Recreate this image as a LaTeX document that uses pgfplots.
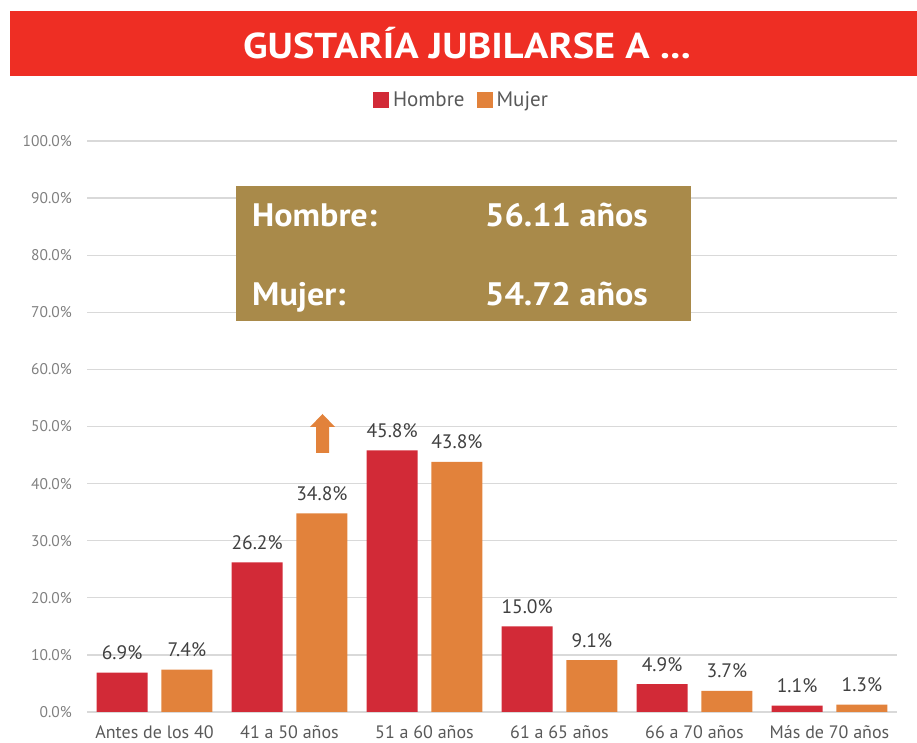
\documentclass[border=0pt]{standalone}
\usepackage{fontspec}
\setmainfont{PT Sans}
\newfontfamily\widefont[FakeStretch=1.12]{PT Sans}
\newfontfamily\boxfont[FakeStretch=1.05]{PT Sans}
\usepackage{pgfplots}
\pgfplotsset{compat=1.18}

\definecolor{titlered}{HTML}{EE2E24}
\definecolor{hred}{HTML}{D22A37}
\definecolor{morange}{HTML}{E2823B}
\definecolor{boxgold}{HTML}{A98A4A}
\definecolor{gridgray}{HTML}{D9D9D9}
\definecolor{tickgray}{HTML}{808080}
\definecolor{xgray}{HTML}{595959}
\definecolor{labgray}{HTML}{404040}

\begin{document}
\begin{tikzpicture}[x=1pt,y=1pt]
\path[use as bounding box] (0,0) rectangle (917,743);

% title bar
\fill[titlered] (10,667) rectangle (917,732);
\node[text=white, font=\widefont\fontsize{36}{40}\selectfont\bfseries] at (467,699.5) {GUSTARÍA JUBILARSE A ...};

\begin{axis}[
  at={(87pt,31pt)}, anchor=south west,
  scale only axis, width=810pt, height=571pt,
  clip=false,
  ymin=0, ymax=100, ytick={0,10,...,100},
  xmin=-0.5, xmax=5.5, xtick={0,...,5},
  xticklabels={Antes de los 40, 41 a 50 años, 51 a 60 años, 61 a 65 años, 66 a 70 años, Más de 70 años},
  axis line style={draw=none}, major tick style={draw=none},
  ymajorgrids, grid style={gridgray, line width=1.3pt},
  /pgf/number format/assume math mode=true,
  yticklabel={\pgfmathprintnumber[fixed,fixed zerofill,precision=1]{\tick}\%},
  yticklabel style={anchor=east, xshift=-15pt, inner sep=0pt, text=tickgray, font=\fontsize{15.5}{18}\selectfont},
  xticklabel style={anchor=base, yshift=-22.5pt, inner sep=0pt, text=xgray, font=\fontsize{18}{20}\selectfont},
  ybar, bar width=0.378,
  nodes near coords={\pgfmathprintnumber[fixed,fixed zerofill,precision=1]{\pgfplotspointmeta}\%},
  every node near coord/.append style={anchor=base, yshift=13pt, inner sep=0pt, text=labgray, font=\fontsize{19.5}{22}\selectfont},
  legend columns=2,
  legend style={at={(0.4636,1)}, anchor=center, yshift=41pt, draw=none, fill=none,
    font=\fontsize{21}{24}\selectfont, text=xgray,
    /tikz/every even column/.append style={column sep=8pt},
    nodes={inner xsep=4pt}},
]
\addplot[fill=hred, draw=none, bar shift=-0.24,
  legend image code/.code={\fill[hred] (0pt,-8pt) rectangle (16pt,8pt);}]
  coordinates {(0,6.9) (1,26.2) (2,45.8) (3,15.0) (4,4.9) (5,1.1)};
\addlegendentry{Hombre}
\addplot[fill=morange, draw=none, bar shift=0.24,
  legend image code/.code={\fill[morange] (0pt,-8pt) rectangle (16pt,8pt);}]
  coordinates {(0,7.4) (1,34.8) (2,43.8) (3,9.1) (4,3.7) (5,1.3)};
\addlegendentry{Mujer}
\end{axis}

% average age box
\fill[boxgold] (236,422) rectangle (691,557);
\node[anchor=base west, inner sep=0pt, text=white, font=\boxfont\fontsize{32.5}{36}\selectfont\bfseries] at (252,516) {Hombre:};
\node[anchor=base west, inner sep=0pt, text=white, font=\boxfont\fontsize{32.5}{36}\selectfont\bfseries] at (485,516) {56.11 años};
\node[anchor=base west, inner sep=0pt, text=white, font=\boxfont\fontsize{32.5}{36}\selectfont\bfseries] at (252,437) {Mujer:};
\node[anchor=base west, inner sep=0pt, text=white, font=\boxfont\fontsize{32.5}{36}\selectfont\bfseries] at (485,437) {54.72 años};

% arrow
\fill[morange] (310,316) -- (322.5,329) -- (335,316) -- (329,316) -- (329,290) -- (316,290) -- (316,316) -- cycle;
\end{tikzpicture}
\end{document}
